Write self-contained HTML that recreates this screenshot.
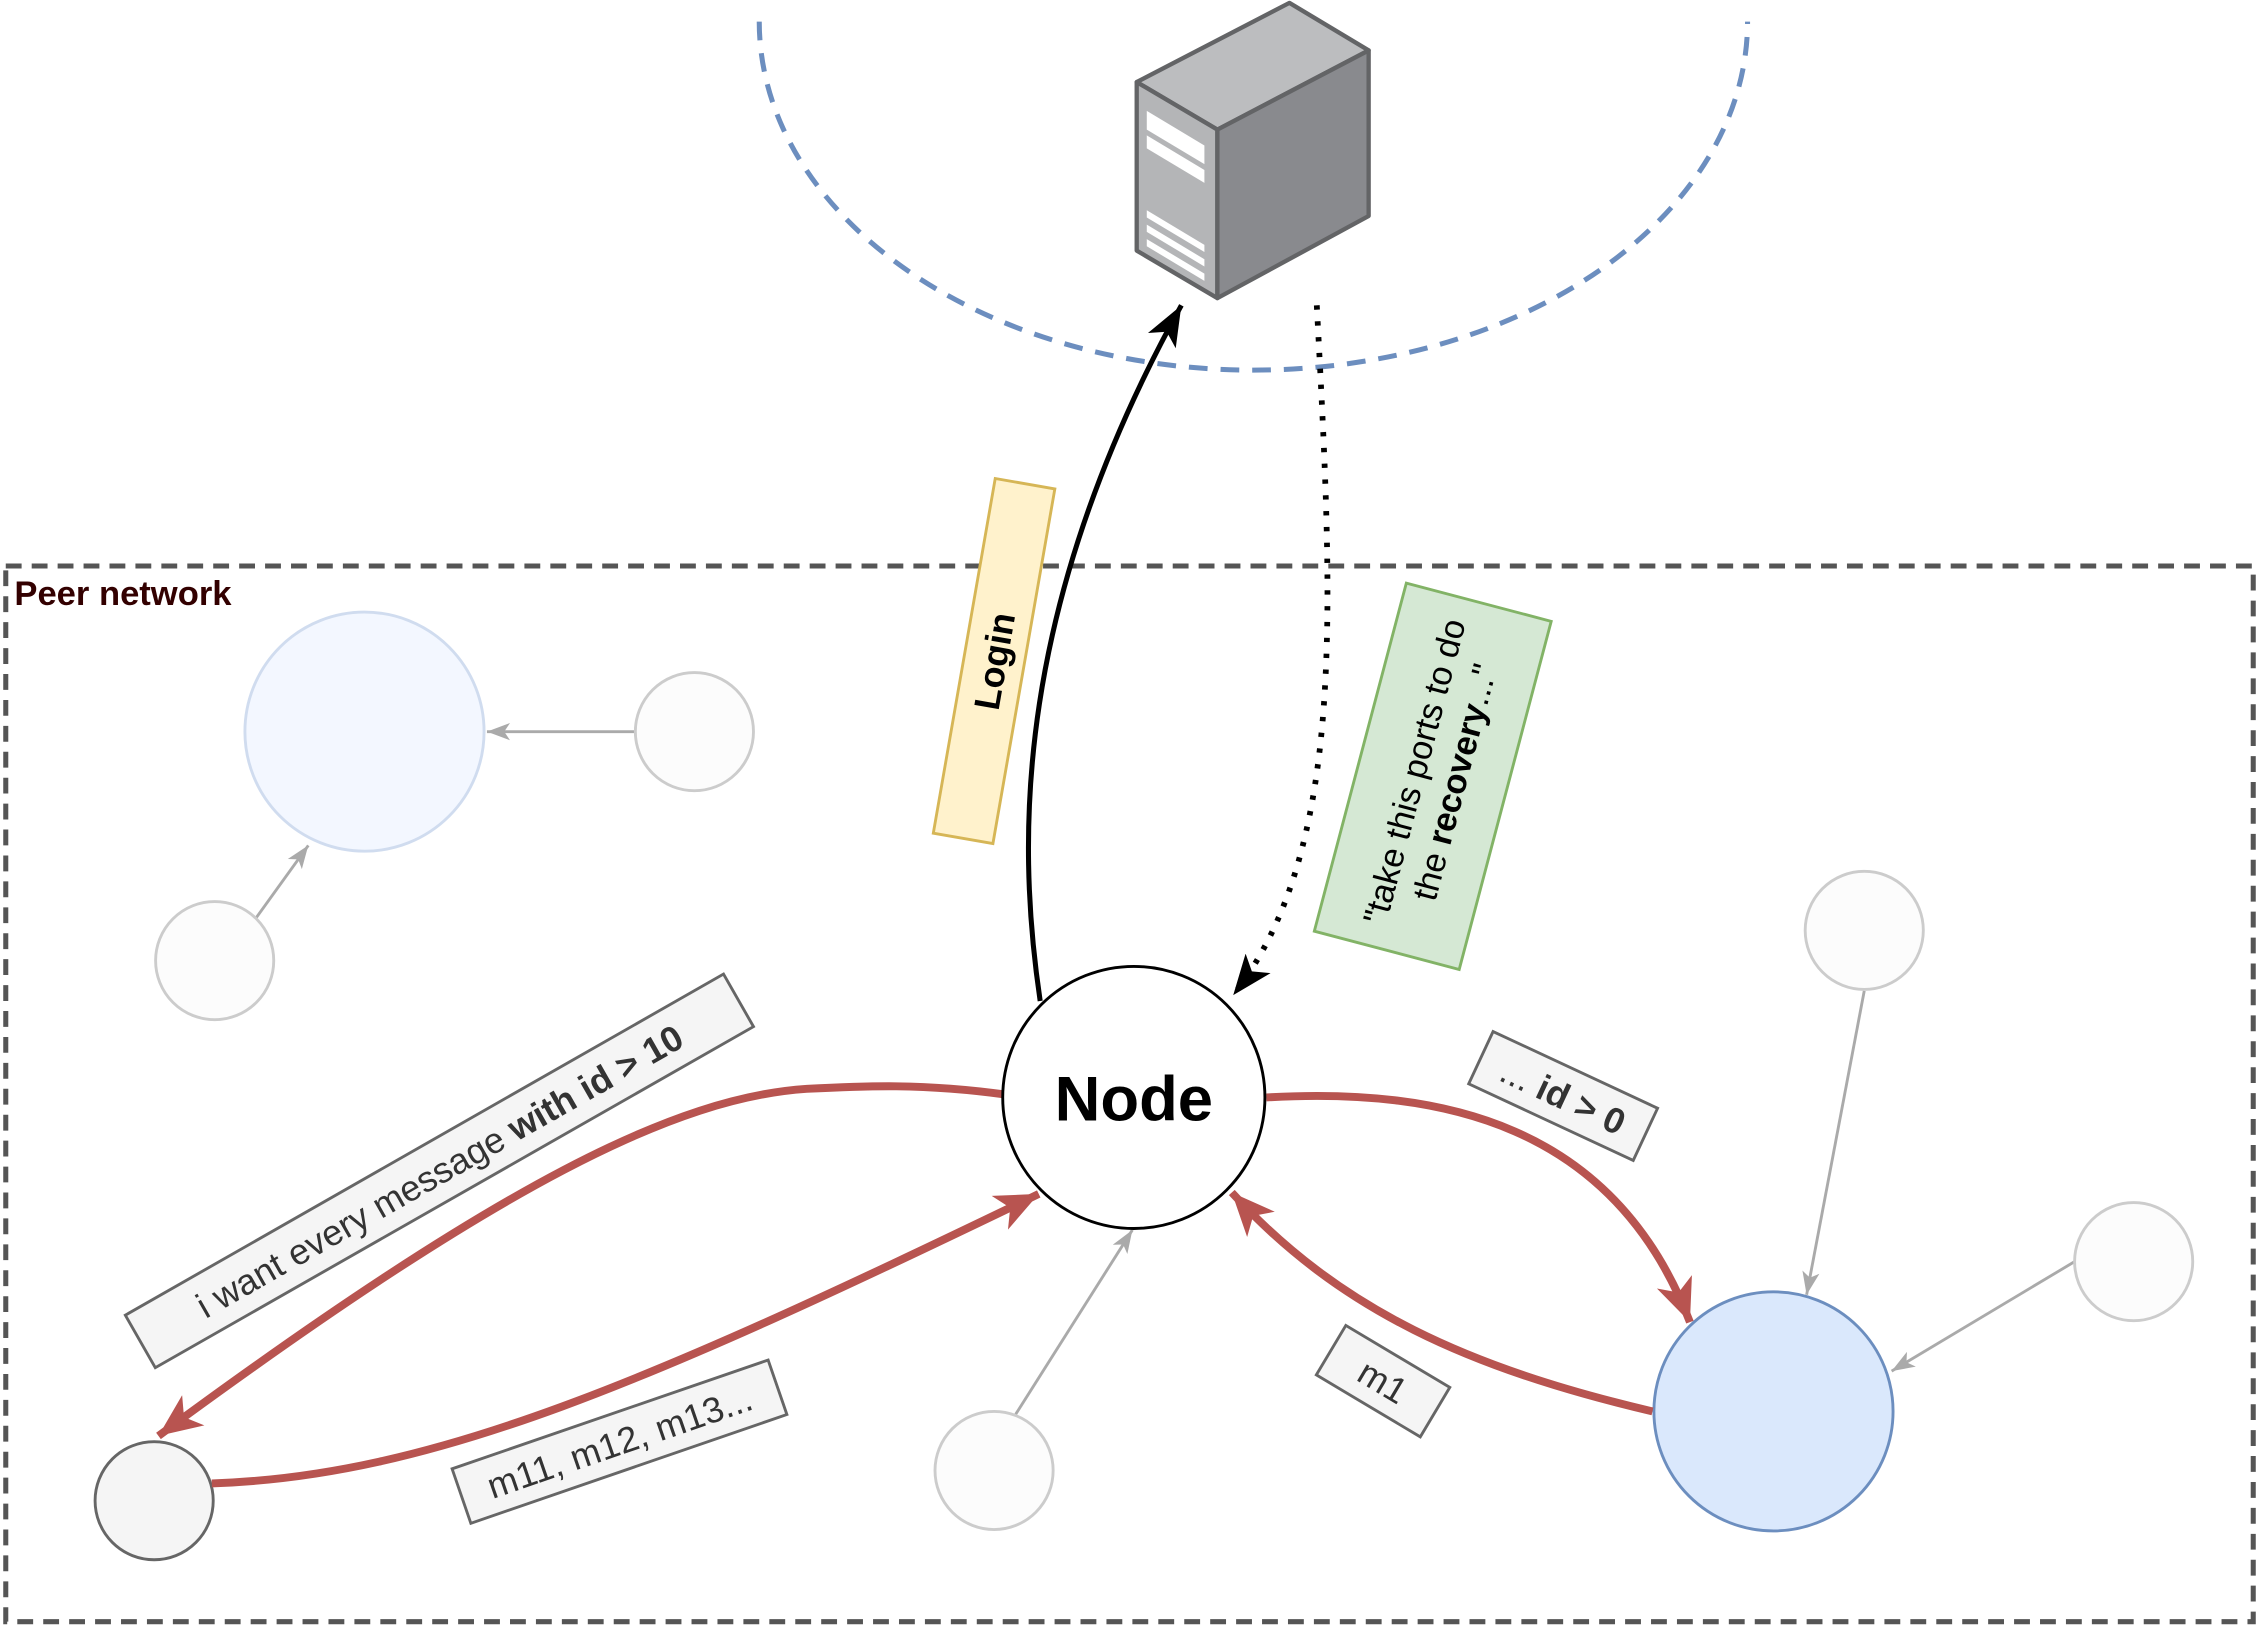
<!DOCTYPE html>
<html><head><meta charset="utf-8"><style>
html,body{margin:0;padding:0;background:#fff;}
svg{display:block;}
text{font-family:"Liberation Sans",sans-serif;}
</style></head><body>
<svg width="2259" height="1626" viewBox="0 0 1568 1129" preserveAspectRatio="none" xmlns="http://www.w3.org/2000/svg">
<defs>
<marker id="red" markerUnits="userSpaceOnUse" markerWidth="40" markerHeight="40" refX="30" refY="15" orient="auto">
<path d="M0,2 L30,15 L0,28 L8,15 Z" fill="#b85450"/></marker>
<marker id="blk" markerUnits="userSpaceOnUse" markerWidth="40" markerHeight="40" refX="28" refY="13" orient="auto">
<path d="M0,2 L28,13 L0,24 L7,13 Z" fill="#000"/></marker>
<marker id="gry" markerUnits="userSpaceOnUse" markerWidth="20" markerHeight="20" refX="16" refY="7" orient="auto">
<path d="M0,1 L16,7 L0,13 L4,7 Z" fill="#aaa"/></marker>
</defs>

<path d="M527,15 A343,242 0 0 0 1213,15" fill="none" stroke="#6c8ebf" stroke-width="3.5" stroke-dasharray="13 9"/>

<g stroke-linejoin="round">
<polygon points="789,57 895,2 950,35 845,90" fill="#bcbdbf" stroke="#636466" stroke-width="3"/>
<polygon points="789,57 845,90 845,207 789,174" fill="#b4b5b7" stroke="#636466" stroke-width="3"/>
<polygon points="845,90 950,35 950,150 845,207" fill="#898a8e" stroke="#636466" stroke-width="3"/>
<polygon points="796,77 836,101 836,114 796,90" fill="#fff"/>
<polygon points="796,94 836,118 836,127 796,103" fill="#fff"/>
<polygon points="796,146 836,170 836,175 796,151" fill="#fff"/>
<polygon points="796,156 836,180 836,185 796,161" fill="#fff"/>
<polygon points="796,166 836,190 836,195 796,171" fill="#fff"/>
</g>

<rect x="4" y="393" width="1560" height="733" fill="none" stroke="#555" stroke-width="3.5" stroke-dasharray="11 7"/>
<text x="10" y="420" font-size="24" font-weight="bold" fill="#330000">Peer network</text>

<line x1="441" y1="508" x2="338" y2="508" stroke="#aaa" stroke-width="2" marker-end="url(#gry)"/>
<line x1="178" y1="637" x2="214" y2="587" stroke="#aaa" stroke-width="2" marker-end="url(#gry)"/>
<line x1="705" y1="982" x2="786" y2="854" stroke="#aaa" stroke-width="2" marker-end="url(#gry)"/>
<line x1="1294" y1="688" x2="1254" y2="899" stroke="#aaa" stroke-width="2" marker-end="url(#gry)"/>
<line x1="1440" y1="876" x2="1313" y2="952" stroke="#aaa" stroke-width="2" marker-end="url(#gry)"/>

<circle cx="253" cy="508" r="83" fill="#f3f7ff" stroke="#d0dcef" stroke-width="2"/>
<circle cx="482" cy="508" r="41" fill="#fcfcfc" stroke="#ccc" stroke-width="2"/>
<circle cx="149" cy="667" r="41" fill="#fcfcfc" stroke="#ccc" stroke-width="2"/>
<circle cx="690" cy="1021" r="41" fill="#fcfcfc" stroke="#ccc" stroke-width="2"/>
<circle cx="1294" cy="646" r="41" fill="#fcfcfc" stroke="#ccc" stroke-width="2"/>
<circle cx="1481" cy="876" r="41" fill="#fcfcfc" stroke="#ccc" stroke-width="2"/>
<circle cx="107" cy="1042" r="41" fill="#f5f5f5" stroke="#666" stroke-width="2"/>
<circle cx="1231" cy="980" r="83" fill="#dae8fc" stroke="#6c8ebf" stroke-width="2"/>

<path d="M722,695 C705,580 705,420 820,212" fill="none" stroke="#000" stroke-width="3.5" marker-end="url(#blk)"/>
<path d="M914,212 C925,420 935,590 856,691" fill="none" stroke="#000" stroke-width="4" stroke-dasharray="3 8" marker-end="url(#blk)"/>

<path d="M698,760 C640,752 600,754 560,756 C470,762 350,820 110,997" fill="none" stroke="#b85450" stroke-width="5.5" marker-end="url(#red)"/>
<path d="M147,1030 C300,1025 450,960 721,829" fill="none" stroke="#b85450" stroke-width="5.5" marker-end="url(#red)"/>
<path d="M879,762 C1000,755 1120,780 1173,918" fill="none" stroke="#b85450" stroke-width="5.5" marker-end="url(#red)"/>
<path d="M1147,980 C1020,950 930,910 855,828" fill="none" stroke="#b85450" stroke-width="5.5" marker-end="url(#red)"/>

<circle cx="787" cy="762" r="91" fill="#fff" stroke="#000" stroke-width="2"/>
<text x="787" y="778" font-size="44" font-weight="bold" text-anchor="middle">Node</text>

<g transform="translate(690,459) rotate(-80.1)">
<rect x="-125" y="-21" width="250" height="42" fill="#fff2cc" stroke="#d6b656" stroke-width="2"/>
<text x="0" y="9" font-size="25" font-weight="bold" text-anchor="middle">Login</text>
</g>
<g transform="translate(994.5,539) rotate(-75.2)">
<rect x="-125" y="-52" width="250" height="104" fill="#d5e8d4" stroke="#82b366" stroke-width="2"/>
<text x="0" y="-5" font-size="24" text-anchor="middle">"take this ports to do</text>
<text x="0" y="24" font-size="24" text-anchor="middle">the <tspan font-weight="bold">recovery</tspan>..."</text>
</g>
<g transform="translate(305,813) rotate(-29.7)">
<rect x="-239" y="-21" width="478" height="42" fill="#f5f5f5" stroke="#666" stroke-width="2"/>
<text x="0" y="9" font-size="25" fill="#333" text-anchor="middle">i want every message <tspan font-weight="bold">with id &gt; 10</tspan></text>
</g>
<g transform="translate(430,1001) rotate(-19)">
<rect x="-116" y="-20" width="232" height="40" fill="#f5f5f5" stroke="#666" stroke-width="2"/>
<text x="0" y="9" font-size="25" fill="#333" text-anchor="middle">m11, m12, m13...</text>
</g>
<g transform="translate(1085,761) rotate(25)">
<rect x="-63" y="-20" width="126" height="40" fill="#f5f5f5" stroke="#666" stroke-width="2"/>
<text x="0" y="9" font-size="25" fill="#333" text-anchor="middle">... <tspan font-weight="bold">id &gt; 0</tspan></text>
</g>
<g transform="translate(960,959) rotate(30.8)">
<rect x="-42" y="-20" width="84" height="40" fill="#f5f5f5" stroke="#666" stroke-width="2"/>
<text x="0" y="9" font-size="25" fill="#333" text-anchor="middle">m1</text>
</g>
</svg>
</body></html>
